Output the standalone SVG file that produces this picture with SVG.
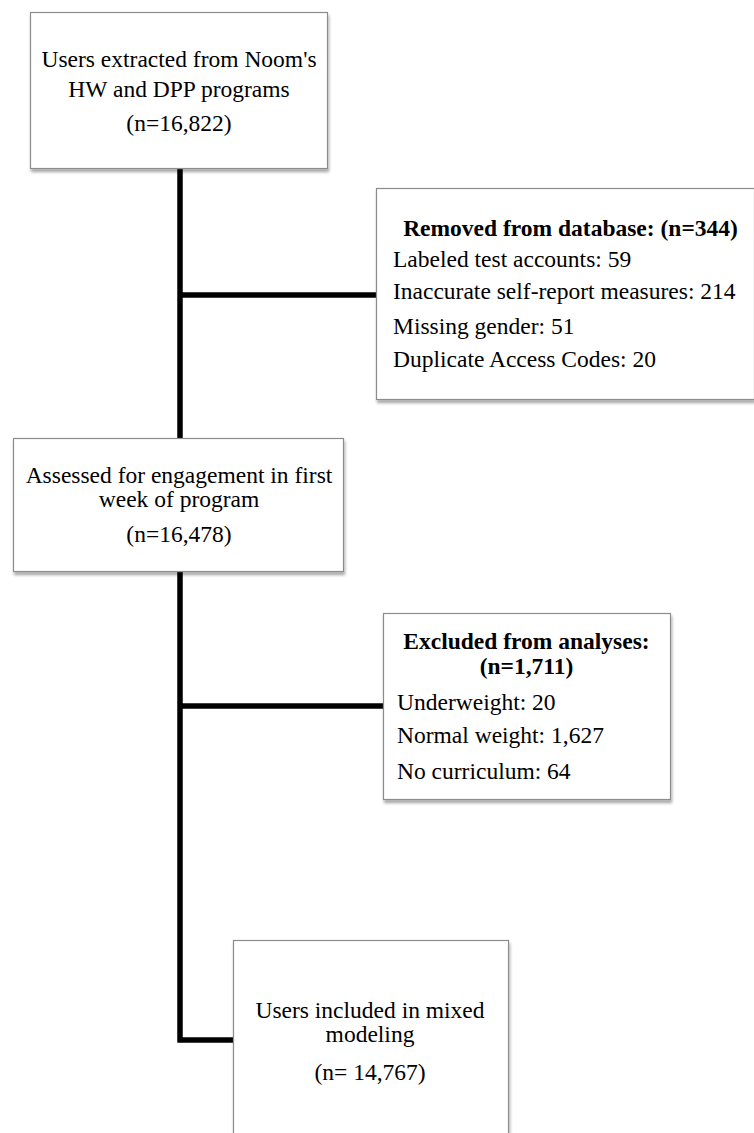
<svg xmlns="http://www.w3.org/2000/svg" width="754" height="1133" viewBox="0 0 754 1133">
<style>
.box{fill:#ffffff;stroke:#8c8c8c;stroke-width:1.2;filter:url(#sh)}
.t{font-family:"Liberation Serif","Times New Roman",serif;font-size:23.5px;fill:#000}
.c{text-anchor:middle}
.b{font-weight:bold}
.ln{stroke:#000;stroke-width:5.5;fill:none;stroke-linecap:butt;stroke-linejoin:miter}
</style>
<defs>
<filter id="sh" x="-10%" y="-10%" width="120%" height="130%">
<feGaussianBlur in="SourceAlpha" stdDeviation="1.8"/>
<feOffset dx="1" dy="3" result="o"/>
<feComponentTransfer><feFuncA type="linear" slope="0.35"/></feComponentTransfer>
<feMerge><feMergeNode/><feMergeNode in="SourceGraphic"/></feMerge>
</filter>
</defs>
<rect width="754" height="1133" fill="#ffffff"/>
<g id="connectors">
<path class="ln" d="M180,169 V438"/>
<path class="ln" d="M180,295 H376"/>
<path class="ln" d="M180,571 V1040 H233"/>
<path class="ln" d="M180,706 H383"/>
</g>
<g id="node-extracted">
<rect class="box" x="30.5" y="12.5" width="297" height="156"/>
<text class="t c" x="179" y="67">Users extracted from Noom's</text>
<text class="t c" x="179" y="97">HW and DPP programs</text>
<text class="t c" x="179" y="131">(n=16,822)</text>
</g>
<g id="node-removed">
<rect class="box" x="376.5" y="188.5" width="378" height="211"/>
<text class="t b c" x="570.5" y="236">Removed from database: (n=344)</text>
<text class="t" x="393" y="267">Labeled test accounts: 59</text>
<text class="t" x="393" y="299">Inaccurate self-report measures: 214</text>
<text class="t" x="393" y="334">Missing gender: 51</text>
<text class="t" x="393" y="367">Duplicate Access Codes: 20</text>
</g>
<g id="node-assessed">
<rect class="box" x="13.5" y="438.5" width="330" height="133"/>
<text class="t c" x="179" y="482.5">Assessed for engagement in first</text>
<text class="t c" x="179" y="506.5">week of program</text>
<text class="t c" x="179" y="542">(n=16,478)</text>
</g>
<g id="node-excluded">
<rect class="box" x="383.5" y="613.5" width="287" height="186"/>
<text class="t b c" x="526.5" y="649">Excluded from analyses:</text>
<text class="t b c" x="526.5" y="674">(n=1,711)</text>
<text class="t" x="397" y="710">Underweight: 20</text>
<text class="t" x="397" y="743">Normal weight: 1,627</text>
<text class="t" x="397" y="779">No curriculum: 64</text>
</g>
<g id="node-included">
<rect class="box" x="233.5" y="940.5" width="275" height="210"/>
<text class="t c" x="370" y="1018">Users included in mixed</text>
<text class="t c" x="370" y="1042">modeling</text>
<text class="t c" x="370" y="1080">(n= 14,767)</text>
</g>
</svg>
